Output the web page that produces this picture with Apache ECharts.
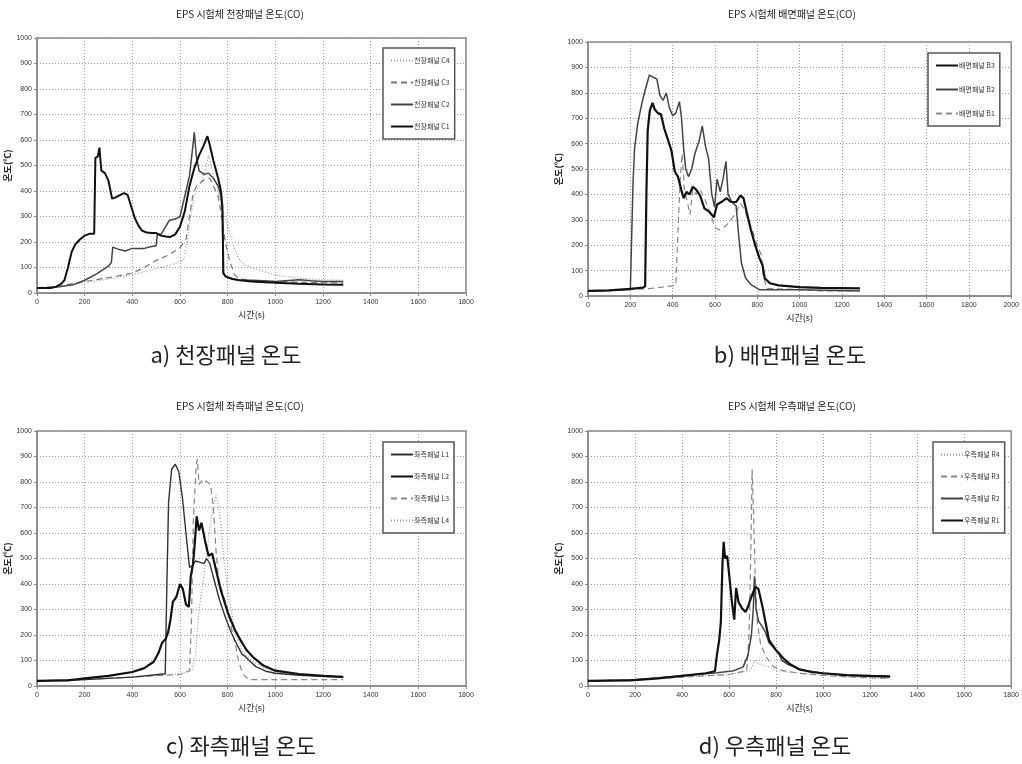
<!DOCTYPE html>
<html>
<head>
<meta charset="utf-8">
<script src="https://cdn.jsdelivr.net/npm/echarts@6/dist/echarts.min.js"></script>
<style>
  html, body { margin: 0; background: #fff; }
  #main { width: 1022px; height: 764px; }
</style>
</head>
<body>
<div id="main"></div>
<script>
// 천장패널 (ceiling)
const C1 = [[0,20],[60,20],[80,25],[100,35],[115,50],[130,100],[145,160],[160,190],[180,210],[200,225],[220,232],[240,232],[245,530],[255,535],[262,570],[270,480],[285,470],[300,440],[315,370],[330,375],[350,385],[365,392],[380,385],[395,340],[410,295],[425,265],[440,245],[460,237],[480,235],[500,235],[520,225],[540,222],[560,220],[580,230],[600,260],[620,320],[640,420],[660,490],[680,540],[700,580],[715,615],[725,580],[740,520],[760,450],[772,400],[778,340],[782,80],[790,65],[820,55],[850,50],[900,45],[1000,40],[1100,36],[1200,33],[1285,32]];
const C2 = [[0,20],[50,20],[100,25],[150,32],[200,50],[250,75],[300,105],[312,120],[318,180],[340,172],[370,165],[400,175],[450,175],[480,182],[500,185],[505,230],[520,230],[540,260],[555,285],[580,290],[600,300],[620,380],[640,460],[652,560],[660,630],[668,540],[680,480],[700,465],[720,470],[740,450],[760,420],[772,380],[778,320],[781,75],[800,60],[850,50],[900,50],[950,48],[1000,45],[1100,52],[1150,48],[1200,45],[1285,45]];
const C3 = [[0,20],[100,28],[200,45],[300,60],[400,78],[450,100],[500,128],[550,148],[600,178],[625,210],[640,300],[655,390],[670,420],[690,435],[710,450],[725,450],[740,420],[760,380],[775,300],[790,200],[810,120],[830,70],[850,55],[900,50],[1000,45],[1100,42],[1200,40],[1285,40]];
const C4 = [[0,20],[100,25],[200,40],[300,55],[400,72],[500,95],[580,115],[615,130],[630,200],[645,300],[660,380],[680,420],[700,460],[720,540],[735,480],[760,400],[780,320],[795,280],[810,230],[830,170],[850,130],[870,110],[900,100],[950,85],[1000,70],[1100,58],[1200,52],[1285,50]];

// 배면패널 (back)
const B3 = [[0,20],[100,22],[200,28],[260,33],[270,38],[276,400],[282,650],[292,730],[305,760],[315,735],[330,720],[345,715],[360,660],[380,610],[395,570],[410,490],[425,470],[440,420],[452,385],[465,410],[480,400],[495,430],[510,420],[530,395],[550,345],[575,330],[595,310],[610,360],[630,370],[655,385],[675,370],[700,370],[720,395],[735,385],[750,330],[770,260],[790,200],[810,150],[825,120],[835,70],[860,50],[900,42],[1000,35],[1100,32],[1285,30]];
const B2 = [[0,20],[100,22],[200,26],[208,30],[213,450],[220,580],[235,680],[255,760],[270,810],[290,870],[310,860],[325,855],[340,790],[355,770],[370,800],[385,740],[400,710],[415,720],[432,765],[442,700],[452,580],[462,500],[475,470],[490,500],[505,560],[525,610],[540,670],[555,590],[570,540],[585,400],[598,350],[610,460],[625,410],[640,470],[652,530],[662,400],[680,370],[700,355],[712,240],[725,130],[745,70],[770,45],[810,25],[1000,25],[1285,20]];
const B1 = [[0,20],[100,22],[200,25],[300,30],[400,40],[415,45],[425,250],[435,450],[445,560],[455,420],[470,370],[482,320],[495,420],[510,400],[530,420],[555,375],[580,320],[600,270],[620,260],[650,275],[680,305],[700,330],[720,365],[740,340],[760,290],[780,250],[800,200],[820,160],[828,80],[845,30],[1000,25],[1100,20],[1285,20]];

// 좌측패널 (left)
const L1 = [[0,20],[200,25],[400,35],[538,48],[545,400],[552,720],[565,850],[580,870],[595,840],[610,740],[625,600],[640,465],[650,470],[665,490],[685,485],[700,480],[712,500],[725,480],[745,410],[765,340],[790,270],[815,210],[840,160],[860,125],[875,115],[890,100],[920,75],[960,58],[1000,50],[1100,42],[1200,38],[1285,35]];
const L2 = [[0,20],[130,22],[200,30],[300,40],[400,55],[450,70],[490,95],[510,130],[525,170],[540,185],[550,210],[560,260],[570,330],[585,350],[600,400],[612,380],[625,320],[637,310],[645,430],[655,480],[662,560],[670,665],[680,610],[690,640],[705,570],[720,510],[735,520],[750,460],[770,380],[800,290],[830,220],[860,170],[880,140],[910,110],[950,80],[1000,60],[1100,47],[1200,40],[1285,36]];
const L3 = [[0,20],[200,25],[400,35],[600,45],[640,60],[648,250],[656,650],[668,870],[673,890],[680,790],[695,810],[715,800],[728,790],[740,700],[752,520],[762,420],[780,360],[800,300],[820,210],[835,150],[845,100],[855,70],[870,40],[890,25],[1000,25],[1285,25]];
const L4 = [[0,20],[200,25],[400,35],[600,48],[650,60],[665,120],[680,300],[700,430],[718,560],[728,640],[740,710],[752,750],[762,700],[772,640],[782,520],[800,380],[820,270],[840,190],[860,140],[880,115],[900,100],[950,72],[1000,55],[1100,45],[1200,40],[1285,35]];

// 우측패널 (right)
const R1 = [[0,20],[180,22],[300,30],[400,40],[500,50],[540,58],[548,120],[558,180],[565,250],[572,480],[577,565],[583,500],[592,510],[600,440],[612,330],[622,260],[630,385],[640,330],[655,305],[670,290],[680,310],[695,350],[712,390],[725,380],[740,320],[755,250],[770,180],[800,140],[830,110],[860,85],[900,65],[950,55],[1000,50],[1100,43],[1200,40],[1285,38]];
const R2 = [[0,20],[200,25],[400,40],[550,52],[620,60],[660,75],[680,120],[695,200],[703,300],[708,430],[715,300],[725,255],[740,235],[755,210],[770,170],[790,150],[810,130],[825,100],[850,85],[900,65],[1000,50],[1100,42],[1200,38],[1285,35]];
const R3 = [[0,20],[200,24],[400,35],[600,45],[675,60],[685,200],[692,500],[698,850],[705,650],[712,400],[720,250],[735,160],[760,110],[790,75],[830,60],[900,50],[1000,42],[1100,36],[1200,32],[1285,30]];
const R4 = [[0,20],[200,24],[400,35],[600,45],[690,60],[700,80],[710,100],[720,90],[740,82],[770,75],[790,65],[820,58],[900,50],[1000,42],[1100,36],[1200,32],[1285,30]];

const chartTitles = ['EPS 시험체 천장패널 온도(CO)', 'EPS 시험체 배면패널 온도(CO)', 'EPS 시험체 좌측패널 온도(CO)', 'EPS 시험체 우측패널 온도(CO)'];
const captions = ['a) 천장패널 온도', 'b) 배면패널 온도', 'c) 좌측패널 온도', 'd) 우측패널 온도'];
const xMaxes = [1800, 2000, 1800, 1800];

const FONT = '"Liberation Sans", "Noto Sans CJK KR", sans-serif';
const KFONT = '"Noto Sans CJK KR", sans-serif';

const grids = [
  { left: 37, top: 38, width: 429, height: 255 },
  { left: 588, top: 42, width: 426, height: 254 },
  { left: 37, top: 431, width: 429, height: 255 },
  { left: 588, top: 431, width: 427, height: 255 },
];

const titlePos = [[240, 9], [792, 9], [240, 401], [792, 401]];
const capPos = [[226, 344], [790, 344], [241, 735], [775, 735]];

const title = [];
chartTitles.forEach((t, i) => {
  title.push({
    text: t, left: titlePos[i][0], top: titlePos[i][1], textAlign: 'center', padding: 0,
    textStyle: { fontSize: 10, fontWeight: 'normal', color: '#222', fontFamily: KFONT },
  });
});
captions.forEach((t, i) => {
  title.push({
    text: t, left: capPos[i][0], top: capPos[i][1], textAlign: 'center', padding: 0,
    textStyle: { fontSize: 22, fontWeight: 'normal', color: '#222', fontFamily: KFONT },
  });
});

const xAxis = grids.map((g, i) => ({
  type: 'value', gridIndex: i, min: 0, max: xMaxes[i], interval: 200,
  name: '시간(s)', nameLocation: 'middle', nameGap: 17,
  nameTextStyle: { fontSize: 9, color: '#222', fontFamily: KFONT },
  axisLine: { onZero: false, lineStyle: { color: '#888', width: 1.5 } },
  axisTick: { show: true, length: 3, lineStyle: { color: '#888' } },
  axisLabel: { fontSize: 7, color: '#333', margin: 6, fontFamily: FONT, formatter: v => String(v) },
  splitLine: { show: true, lineStyle: { color: '#999', type: [1, 2], width: 1 } },
}));

const yAxis = grids.map((g, i) => ({
  type: 'value', gridIndex: i, min: 0, max: 1000, interval: 100,
  name: '온도(℃)', nameLocation: 'middle', nameGap: 18,
  nameTextStyle: { fontSize: 9, color: '#222', fontWeight: 'bold', fontFamily: KFONT },
  axisLine: { show: true, lineStyle: { color: '#888', width: 1.5 } },
  axisTick: { show: true, length: 3, lineStyle: { color: '#888' } },
  axisLabel: { fontSize: 7, color: '#333', margin: 5, fontFamily: FONT, formatter: v => String(v) },
  splitLine: { show: true, lineStyle: { color: '#999', type: [1, 2], width: 1 } },
}));

function line(name, data, gi, color, width, dash) {
  return {
    name, type: 'line', xAxisIndex: gi, yAxisIndex: gi, data,
    symbol: 'none', animation: false,
    lineStyle: { color, width, type: dash || 'solid' },
    itemStyle: { color },
  };
}

const series = [
  line('천장패널 C4', C4, 0, '#999', 1.2, [1, 2]),
  line('천장패널 C3', C3, 0, '#777', 1.2, [6, 4]),
  line('천장패널 C2', C2, 0, '#444', 1.5),
  line('천장패널 C1', C1, 0, '#111', 2),

  line('배면패널 B1', B1, 1, '#888', 1.2, [6, 4]),
  line('배면패널 B2', B2, 1, '#444', 1.5),
  line('배면패널 B3', B3, 1, '#111', 2.2),

  line('좌측패널 L4', L4, 2, '#999', 1.2, [1, 2]),
  line('좌측패널 L3', L3, 2, '#888', 1.2, [6, 4]),
  line('좌측패널 L1', L1, 2, '#333', 1.4),
  line('좌측패널 L2', L2, 2, '#111', 2.2),

  line('우측패널 R4', R4, 3, '#999', 1.2, [1, 2]),
  line('우측패널 R3', R3, 3, '#888', 1.2, [6, 4]),
  line('우측패널 R2', R2, 3, '#444', 1.5),
  line('우측패널 R1', R1, 3, '#111', 2.2),
];

function legend(names, left, top, gap) {
  return {
    orient: 'vertical', left, top, data: names,
    itemWidth: 22, itemHeight: 8, itemGap: gap,
    padding: [9, 5, 9, 7],
    borderColor: '#555', borderWidth: 1.5, borderRadius: 0,
    backgroundColor: '#fff',
    textStyle: { fontSize: 7, color: '#333', fontFamily: KFONT, padding: [0, 0, 0, -4] },
    itemStyle: { opacity: 0 },
    selectedMode: false,
  };
}

const option = {
  backgroundColor: '#fff',
  animation: false,
  title,
  grid: grids.map(g => Object.assign({ show: true, borderColor: '#888', borderWidth: 1.5, containLabel: false }, g)),
  xAxis,
  yAxis,
  legend: [
    legend(['천장패널 C4', '천장패널 C3', '천장패널 C2', '천장패널 C1'], 383, 48, 15),
    legend(['배면패널 B3', '배면패널 B2', '배면패널 B1'], 928, 53, 17),
    legend(['좌측패널 L1', '좌측패널 L2', '좌측패널 L3', '좌측패널 L4'], 383, 442, 15),
    legend(['우측패널 R4', '우측패널 R3', '우측패널 R2', '우측패널 R1'], 933, 442, 15),
  ],
  series,
};

const myChart = echarts.init(document.getElementById('main'));
myChart.setOption(option);
</script>
</body>
</html>
